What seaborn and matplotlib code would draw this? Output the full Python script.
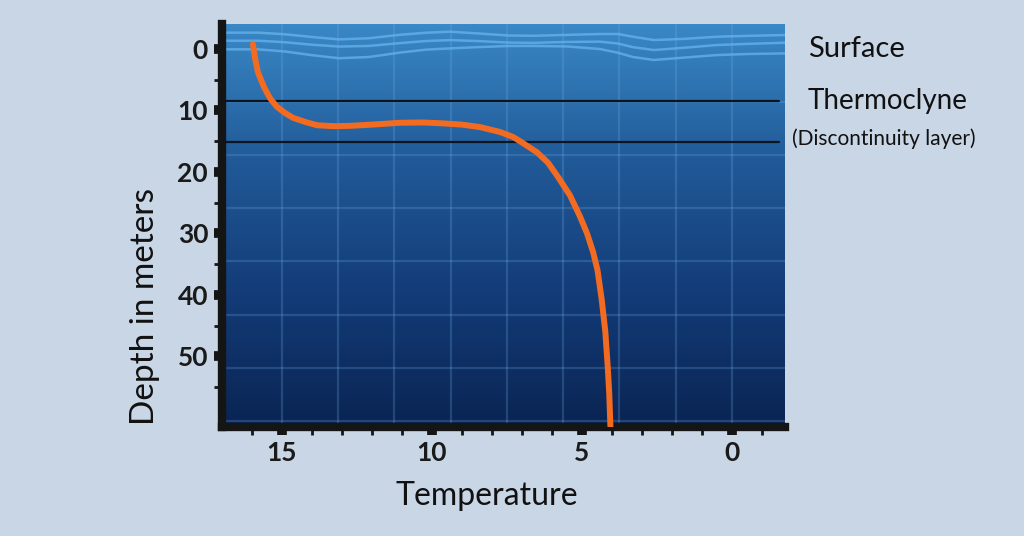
import numpy as np
import pandas as pd
import seaborn as sns
import matplotlib.pyplot as plt
from matplotlib.colors import LinearSegmentedColormap

# temperature profile (deg) vs depth (m)
temp = [15.97, 15.9, 15.8, 15.6, 15.4, 15.17, 14.9, 14.63, 14.2, 13.83, 13.3, 12.73, 12.0, 11.07, 10.3,
        9.63, 9.0, 8.4, 7.73, 7.3, 7.0, 6.5, 6.13, 5.8, 5.4, 5.06, 4.83, 4.63, 4.48, 4.34, 4.22, 4.14,
        4.09, 4.05]
depth = [-0.8, 1.5, 3.8, 6.2, 8.0, 9.4, 10.4, 11.2, 11.9, 12.4, 12.55, 12.5, 12.3, 12.0, 11.95,
         12.1, 12.3, 12.7, 13.5, 14.3, 15.2, 16.8, 18.5, 20.8, 23.8, 27.3, 30.0, 33.0, 36.0, 40.8,
         46.0, 51.7, 56.0, 61.5]

# thermocline band limits
layer_top = 8.4
layer_bottom = 15.2

# surface waves (decoration)
wave_x = [16.9, 15.8, 14.9, 14.0, 13.1, 12.1, 11.1, 10.2, 9.4, 8.5, 7.47, 6.63, 5.5, 4.4, 3.8, 3.3,
          2.6, 1.6, 0.5, -0.6, -1.8]
wave_a = [-2.66, -2.66, -2.4, -1.95, -1.57, -1.75, -2.3, -2.65, -2.82, -2.55, -2.2, -2.15, -2.3,
          -2.44, -2.44, -2.0, -1.46, -1.65, -2.0, -2.15, -2.28]
wave_b = [-1.35, -1.35, -1.1, -0.7, -0.4, -0.5, -0.95, -1.3, -1.45, -1.3, -1.05, -1.0, -1.15,
          -1.2, -0.9, -0.3, 0.16, -0.2, -0.65, -0.85, -1.03]
wave_c = [0.05, 0.05, 0.4, 1.0, 1.5, 1.3, 0.6, 0.1, -0.1, -0.3, -0.49, -0.5, -0.42, 0.0, 0.6,
          1.3, 1.78, 1.4, 0.98, 0.8, 0.71]

y_ticks = [0, 10, 20, 30, 40, 50]
x_ticks = [15, 10, 5, 0]

sns.set_theme(style="white")
plt.rcParams['font.family'] = ['Lato', 'DejaVu Sans']

fig = plt.figure(figsize=(10.24, 5.36), dpi=100, facecolor="#c9d6e6")
ax = fig.add_axes([222 / 1024, 1 - 427 / 536, (785 - 222) / 1024, (427 - 24) / 536])

# water gradient
cmap = LinearSegmentedColormap.from_list("sea", ["#3a88c6", "#215a98", "#133c78", "#0a2453"])
grad = np.linspace(0, 1, 256).reshape(-1, 1)
ax.imshow(grad, cmap=cmap, extent=[0, 1, 0, 1], transform=ax.transAxes, aspect="auto",
          origin="upper", zorder=0)

# faint grid
for gx in np.linspace(0, 15, 9):
    ax.axvline(gx, color="#6fa9e0", alpha=0.25, lw=1.6, zorder=1)
for gy in np.linspace(0, 60.5, 8)[1:]:
    ax.axhline(gy, color="#6fa9e0", alpha=0.25, lw=1.6, zorder=1)

for w in (wave_a, wave_b, wave_c):
    sns.lineplot(x=wave_x, y=w, sort=False, ax=ax, color="#66b3ec", lw=1.8, alpha=0.75, zorder=2)

ax.axhline(layer_top, xmax=0.99, color="#0b1522", lw=1.6, zorder=3)
ax.axhline(layer_bottom, xmax=0.99, color="#0b1522", lw=1.6, zorder=3)

df = pd.DataFrame({"temp": temp, "depth": depth})
sns.lineplot(data=df, x="temp", y="depth", sort=False, ax=ax, color="#f26b21", lw=4.3,
             solid_capstyle="round", solid_joinstyle="round", zorder=4)

ax.set_xlim(17.0, -1.77)
ax.set_ylim(61.5, -4.07)

ax.set_xticks(x_ticks)
ax.set_yticks(y_ticks)
ax.set_xticks(np.arange(-1, 17), minor=True)
ax.set_yticks(np.arange(5, 61, 10), minor=True)
ax.tick_params(which="major", length=6, width=7, color="#151515", pad=4,
               labelsize=19, labelcolor="#1a1a1a")
ax.tick_params(which="minor", length=6, width=2, color="#151515")
ax.tick_params(axis="x", which="both", bottom=True, top=False)
ax.tick_params(axis="y", which="both", left=True, right=False)
for lab in ax.get_xticklabels() + ax.get_yticklabels():
    lab.set_fontweight("bold")
ax.grid(False)

for s in ("top", "right"):
    ax.spines[s].set_visible(False)
for s in ("left", "bottom"):
    ax.spines[s].set_color("#151515")
    ax.spines[s].set_linewidth(6)

ax.set_xlabel("Temperature", fontsize=23, color="#111111")
ax.set_ylabel("Depth in meters", fontsize=24, color="#111111")
ax.xaxis.set_label_coords(0.47, -0.135)
ax.yaxis.set_label_coords(-0.11, 0.30)

tr = ax.get_yaxis_transform()
ax.text(1.04, 0, "Surface", transform=tr, fontsize=21, color="#111111", va="center", ha="left")
ax.text(1.04, layer_top, "Thermoclyne", transform=tr, fontsize=20, color="#111111", va="center", ha="left")
ax.text(1.013, layer_bottom - 0.6, "(Discontinuity layer)", transform=tr, fontsize=15, color="#111111",
        va="center", ha="left")

fig.savefig("out.png", dpi=100, facecolor=fig.get_facecolor())
